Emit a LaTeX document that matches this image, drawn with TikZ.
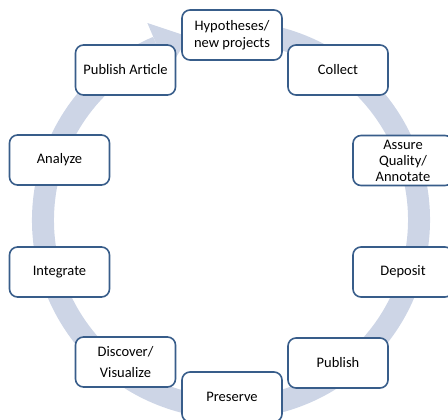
\documentclass[tikz,border=0pt]{standalone}
\usepackage{fontspec}
\setmainfont{Carlito}
\usetikzlibrary{arrows.meta,positioning}
\definecolor{ringblue}{RGB}{205,213,230}
\definecolor{boxblue}{RGB}{56,93,138}

\begin{document}
\begin{tikzpicture}[
            x=1pt, y=1pt,
            every node/.style={font=\fontsize{14.5}{17}\selectfont},
            stagebox/.style={draw=boxblue, line width=1.6pt, rounded corners=8pt,
              fill=white, minimum width=100pt, minimum height=50pt,
              align=center, inner sep=2pt}
        ]
        \useasboundingbox (0,0) rectangle (448,420);
        \clip (0,0) rectangle (448,420);

        %================================================
        % Circular arrow behind the boxes
        %================================================
        \begin{scope}[shift={(231,200)}]
        \draw[ringblue, line width=22pt] (80:188) arc[start angle=80, end angle=-247, radius=188];
        \fill[ringblue] (113:214) -- (113:162) -- (103:188) -- cycle;
        \end{scope}

        %================================================
        % Stages of the cycle, clockwise from the top
        %================================================
        \node[stagebox] (hyp) at (232,385) {Hypotheses/\\new projects};
        \node[stagebox] (coll) at (338,350) {Collect};
        \node[stagebox, font=\fontsize{14.5}{16}\selectfont] (qual) at (403,259.5) {Assure\\Quality/\\Annotate};
        \node[stagebox] (dep) at (403,148) {Deposit};
        \node[stagebox] (pub) at (338,57) {Publish};
        \node[stagebox] (pres) at (232,23) {Preserve};
        \node[stagebox] (disc) at (125.5,58) {Discover/\\[4pt]Visualize};
        \node[stagebox] (integ) at (59.5,148) {Integrate};
        \node[stagebox] (anal) at (59.5,260) {Analyze};
        \node[stagebox] (art) at (125.5,350) {Publish Article};

        \end{tikzpicture}
\end{document}
